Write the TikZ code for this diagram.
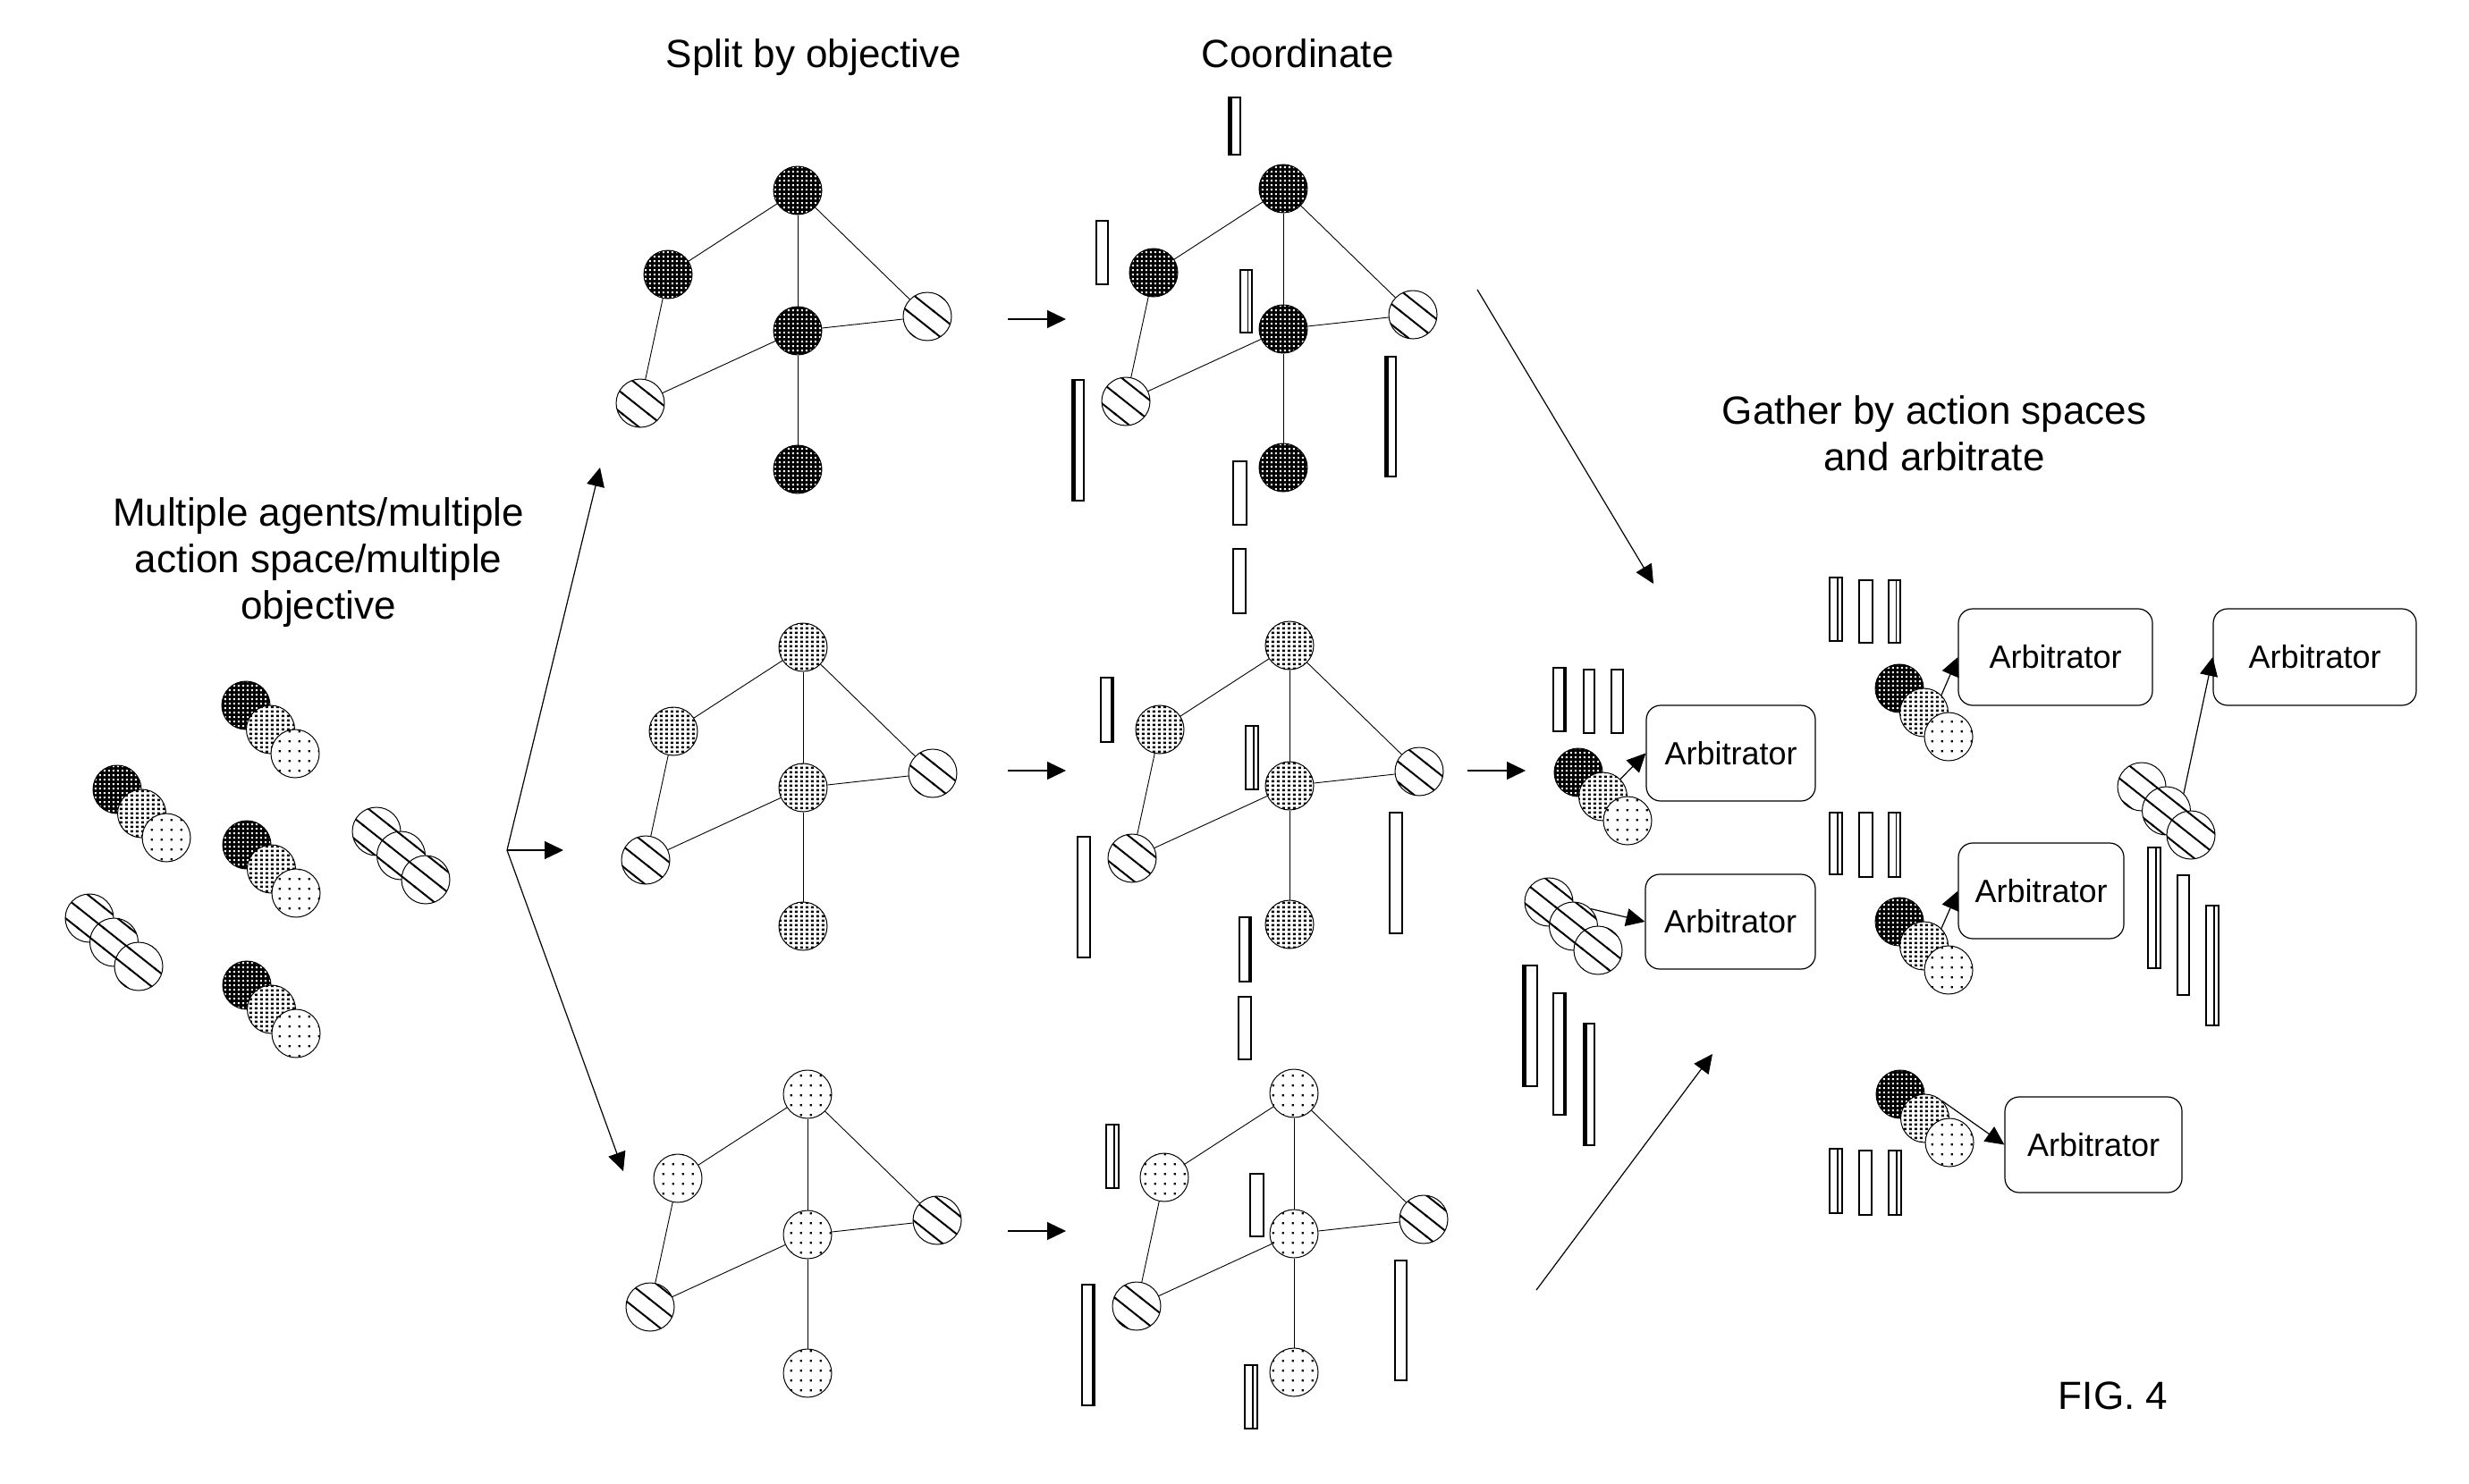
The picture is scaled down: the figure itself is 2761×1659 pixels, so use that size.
\documentclass[tikz,border=0pt]{standalone}
\usepackage{fontspec}
\setmainfont{Liberation Sans}
\usetikzlibrary{arrows.meta,patterns}

\pgfdeclarepatternformonly{darksq}{\pgfpoint{0pt}{0pt}}{\pgfpoint{5pt}{5pt}}{\pgfpoint{5pt}{5pt}}{\pgfpathrectangle{\pgfpoint{1pt}{1pt}}{\pgfpoint{2.5pt}{2.3pt}}\pgfusepath{fill}}
\pgfdeclarepatternformonly{medsq}{\pgfpoint{0pt}{0pt}}{\pgfpoint{5.8pt}{5.2pt}}{\pgfpoint{5.8pt}{5.2pt}}{\pgfpathrectangle{\pgfpoint{1pt}{1pt}}{\pgfpoint{3pt}{2.8pt}}\pgfusepath{fill}}
\pgfdeclarepatternformonly{ltsq}{\pgfpoint{0pt}{0pt}}{\pgfpoint{11pt}{11pt}}{\pgfpoint{11pt}{11pt}}{\pgfpathrectangle{\pgfpoint{4pt}{4pt}}{\pgfpoint{2.4pt}{2.4pt}}\pgfusepath{fill}}
\pgfdeclarepatternformonly{hatch}{\pgfpoint{-2pt}{-2pt}}{\pgfpoint{31pt}{25pt}}{\pgfpoint{29pt}{23pt}}{\pgfsetlinewidth{2pt}\pgfpathmoveto{\pgfpoint{-1.26pt}{24pt}}\pgfpathlineto{\pgfpoint{30.26pt}{-1pt}}\pgfusepath{stroke}}

\newcommand{\agraph}[4]{%
  \begin{scope}[shift={(#2,#3)}]
    \node[#4] (#1t) at (0,0) {};
    \node[#4] (#1l) at (-145,94) {};
    \node[#4] (#1c) at (0,157) {};
    \node[ht] (#1r) at (145,141) {};
    \node[ht] (#1b) at (-176,238) {};
    \node[#4] (#1d) at (0,312) {};
    \draw[edge] (#1t) -- (#1l);
    \draw[edge] (#1l) -- (#1b);
    \draw[edge] (#1b) -- (#1c);
    \draw[edge] (#1t) -- (#1c);
    \draw[edge] (#1c) -- (#1d);
    \draw[edge] (#1t) -- (#1r);
    \draw[edge] (#1c) -- (#1r);
  \end{scope}}

\newcommand{\agtrio}[6]{%
  \begin{scope}[shift={(#2,#3)}]
    \node[#4] (#1a) at (0,0) {};
    \node[#5] (#1b) at (27.5,27) {};
    \node[#6] (#1c) at (55,54) {};
  \end{scope}}

\newcommand{\barPl}[4]{\draw[barln] (#1,#2) rectangle (#3,#4);}
\newcommand{\barLt}[4]{\fill ({#1},#2) rectangle ({#1+3.5},#4);\draw[barln] (#1,#2) rectangle (#3,#4);}
\newcommand{\barRt}[4]{\fill ({#3-3.5},#2) rectangle ({#3},#4);\draw[barln] (#1,#2) rectangle (#3,#4);}
\newcommand{\barDb}[4]{\draw[barln] (#1,#2) rectangle (#3,#4);\draw[line width=1.8pt] ({#1+0.65*(#3-#1)},#2) -- ({#1+0.65*(#3-#1)},#4);}

\begin{document}
\begin{tikzpicture}[x=1pt,y=-1pt,
  ag/.style={circle,draw,line width=1pt,minimum size=54pt,inner sep=0pt},
  dk/.style={ag,preaction={fill=black},pattern=darksq,pattern color=white},
  md/.style={ag,preaction={fill=white},pattern=medsq,pattern color=black},
  lt/.style={ag,preaction={fill=white},pattern=ltsq,pattern color=black},
  ht/.style={ag,preaction={fill=white},pattern=hatch,pattern color=black},
  edge/.style={line width=0.9pt},
  arr/.style={line width=1.2pt,-{Triangle[length=21pt,width=20pt]}},
  barln/.style={line width=1.4pt},
  arb/.style={draw,rounded corners=16pt,line width=1.2pt,inner sep=0pt,font=\fontsize{36}{40}\selectfont},
  lbl/.style={anchor=base,inner sep=0pt,font=\fontsize{44}{52}\selectfont}]

\fill[white] (0,0) rectangle (2761,1659);
\useasboundingbox (0,0) rectangle (2761,1659);

% labels
\node[lbl] (lsplit) at (910,76) {Split by objective};
\node[lbl] (lcoord) at (1451,76) {Coordinate};
\node[lbl] (lgath1) at (2163,474) {Gather by action spaces};
\node[lbl] (lgath2) at (2163,526) {and arbitrate};
\node[lbl] (lmul1) at (356,588) {Multiple agents/multiple};
\node[lbl] (lmul2) at (356,640) {action space/multiple};
\node[lbl] (lmul3) at (356,692) {objective};
\node[lbl] (lfig) at (2363,1576) {FIG. 4};

% left clusters
\agtrio{ca}{275}{789}{dk}{md}{lt}
\agtrio{cb}{131}{883}{dk}{md}{lt}
\agtrio{cc}{276}{945}{dk}{md}{lt}
\agtrio{cd}{276}{1102}{dk}{md}{lt}
\agtrio{ce}{421}{930}{ht}{ht}{ht}
\agtrio{cf}{100}{1027}{ht}{ht}{ht}

% fork arrows
\coordinate (fork) at (567,951);
\coordinate (fT) at (671,523);
\coordinate (fM) at (630,951);
\coordinate (fB) at (697,1310);
\draw[arr] (fork) -- (fT);
\draw[arr] (fork) -- (fM);
\draw[arr] (fork) -- (fB);

% graphs
\agraph{ga}{892}{213}{dk}
\agraph{gb}{1435}{211}{dk}
\agraph{gc}{898}{724}{md}
\agraph{gd}{1442}{722}{md}
\agraph{ge}{903}{1224}{lt}
\agraph{gf}{1447}{1223}{lt}

% split -> coordinate arrows
\coordinate (s1a) at (1127,357); \coordinate (s1b) at (1192,357);
\coordinate (s2a) at (1127,862); \coordinate (s2b) at (1192,862);
\coordinate (s3a) at (1127,1377); \coordinate (s3b) at (1192,1377);
\draw[arr] (s1a) -- (s1b);
\draw[arr] (s2a) -- (s2b);
\draw[arr] (s3a) -- (s3b);

% bars, top coordinate graph
\barLt{1374}{109}{1387}{173}
\barPl{1226}{247}{1239}{318}
\barDb{1387}{302}{1400}{372}
\barLt{1199}{425}{1212}{560}
\barPl{1379}{516}{1394}{587}
\barLt{1549}{399}{1561}{533}
% bars, middle coordinate graph
\barPl{1379}{614}{1393}{686}
\barRt{1231}{758}{1245}{830}
\barDb{1393}{812}{1407}{883}
\barPl{1205}{936}{1219}{1071}
\barPl{1554}{909}{1568}{1044}
\barRt{1386}{1026}{1399}{1098}
\barPl{1385}{1115}{1399}{1185}
% bars, bottom coordinate graph
\barDb{1237}{1258}{1251}{1329}
\barPl{1398}{1313}{1413}{1383}
\barRt{1210}{1437}{1224}{1572}
\barPl{1560}{1410}{1573}{1544}
\barDb{1392}{1527}{1406}{1598}

% gather arrows
\coordinate (d1a) at (1652,324); \coordinate (d1b) at (1849,653);
\coordinate (d2a) at (1718,1443); \coordinate (d2b) at (1915,1179);
\coordinate (m1a) at (1641,862); \coordinate (m1b) at (1706,862);
\draw[arr] (d1a) -- (d1b);
\draw[arr] (d2a) -- (d2b);
\draw[arr] (m1a) -- (m1b);

% arbitrators
\node[arb,minimum width=189pt,minimum height=107pt] (box1) at (1935.5,842.5) {Arbitrator};
\node[arb,minimum width=190pt,minimum height=106pt] (box2) at (1935,1031) {Arbitrator};
\node[arb,minimum width=217pt,minimum height=108pt] (box3) at (2298.5,735) {Arbitrator};
\node[arb,minimum width=227pt,minimum height=108pt] (box4) at (2588.5,735) {Arbitrator};
\node[arb,minimum width=185pt,minimum height=107pt] (box5) at (2282.5,996.5) {Arbitrator};
\node[arb,minimum width=198pt,minimum height=107pt] (box6) at (2341,1280.5) {Arbitrator};

% right clusters
\agtrio{ra}{1765}{864}{dk}{md}{lt}
\agtrio{rb}{1732}{1009}{ht}{ht}{ht}
\agtrio{rc}{2124}{770}{dk}{md}{lt}
\agtrio{rd}{2395}{880}{ht}{ht}{ht}
\agtrio{re}{2124}{1031}{dk}{md}{lt}
\agtrio{rf}{2125}{1224}{dk}{md}{lt}

\draw[arr] (rab.north east) -- (box1.west);
\draw[arr] (rbb.north east) -- (box2.west);
\draw[arr] (rcb.north east) -- (box3.west);
\draw[arr] (rdb.north east) -- (box4.west);
\draw[arr] (reb.north east) -- (box5.west);
\draw[arr] (rfb.north east) -- (box6.west);

% right bars
\barRt{1737}{747}{1751}{818}
\barPl{1771}{749}{1783}{820}
\barPl{1802}{749}{1815}{820}
\barLt{1703}{1080}{1719}{1215}
\barRt{1737}{1111}{1751}{1247}
\barLt{1771}{1145}{1783}{1281}
\barDb{2046}{646}{2060}{717}
\barPl{2079}{649}{2094}{719}
\barDb{2112}{649}{2125}{719}
\barDb{2046}{909}{2060}{978}
\barPl{2079}{909}{2094}{981}
\barDb{2112}{909}{2125}{981}
\barDb{2046}{1285}{2060}{1357}
\barPl{2079}{1287}{2093}{1359}
\barDb{2112}{1287}{2126}{1359}
\barDb{2402}{948}{2416}{1083}
\barPl{2435}{979}{2448}{1113}
\barDb{2467}{1013}{2481}{1147}

\end{tikzpicture}
\end{document}
